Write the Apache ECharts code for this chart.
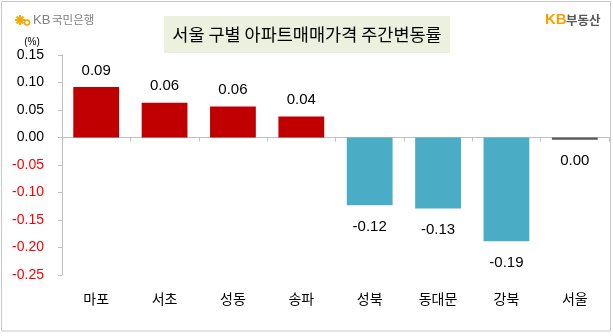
<!DOCTYPE html>
<html>
<head>
<meta charset="utf-8">
<script src="https://cdn.jsdelivr.net/npm/echarts@6/dist/echarts.min.js"></script>
<style>
  html, body { margin: 0; padding: 0; background: #fff; }
  #chart { width: 613px; height: 336px; }
</style>
</head>
<body>
<div id="chart"></div>
<script>
// 서울 구별 아파트 매매가격 주간 변동률 (%)
const districts = ['마포', '서초', '성동', '송파', '성북', '동대문', '강북', '서울'];
const weeklyChange = [0.092, 0.063, 0.0565, 0.038, -0.123, -0.129, -0.1886, -0.004];
const yTicks = { min: -0.25, max: 0.15, step: 0.05 };

const UP = '#C00000', DOWN = '#4BACC6', CITY = '#595959';
const FONT = '"Liberation Sans", "Noto Sans CJK KR", sans-serif';
const KFONT = '"Noto Sans CJK KR", sans-serif';

const fmt = v => (Math.round(v * 100) / 100).toFixed(2);

const barData = weeklyChange.map((v, i) => {
  const isCity = districts[i] === '서울';
  const above = v >= 0 && !isCity;
  return {
    value: v,
    itemStyle: { color: isCity ? CITY : (v >= 0 ? UP : DOWN) },
    label: { position: above ? 'top' : 'bottom', distance: above ? 9 : 14 }
  };
});

const chart = echarts.init(document.getElementById('chart'), null, { renderer: 'canvas' });
chart.setOption({
  animation: false,
  backgroundColor: '#fff',
  grid: { left: 62, right: 4, top: 55, bottom: 61 },
  xAxis: [
    {
      type: 'category',
      data: districts,
      axisLine: { onZero: true, lineStyle: { color: '#BFBFBF', width: 1 } },
      axisTick: { show: true, length: 4, lineStyle: { color: '#BFBFBF' } },
      axisLabel: { show: false }
    },
    {
      type: 'category',
      data: districts,
      position: 'bottom',
      axisLine: { show: false, onZero: false },
      axisTick: { show: false },
      axisLabel: { show: true, margin: 17, color: '#000', fontSize: 14, fontFamily: KFONT }
    }
  ],
  yAxis: {
    type: 'value',
    min: yTicks.min,
    max: yTicks.max,
    interval: yTicks.step,
    axisLine: { show: true, lineStyle: { color: '#BFBFBF' } },
    axisTick: { show: true, length: 4, lineStyle: { color: '#BFBFBF' } },
    splitLine: { show: false },
    axisLabel: {
      margin: 18,
      fontSize: 14,
      fontFamily: FONT,
      formatter: v => fmt(v),
      color: v => (v < -1e-9 ? '#FF0000' : '#000')
    }
  },
  series: [{
    type: 'bar',
    xAxisIndex: 0,
    data: barData,
    barCategoryGap: '33%',
    label: {
      show: true,
      color: '#000',
      fontSize: 15,
      fontFamily: FONT,
      formatter: p => fmt(p.value)
    }
  }],
  graphic: [
    { type: 'rect', shape: { x: 1.5, y: 1.5, width: 609, height: 329.5 },
      style: { fill: null, stroke: '#C8C8C8', lineWidth: 1 }, z: 100 },
    { type: 'rect', shape: { x: 164, y: 16, width: 286, height: 37 },
      style: { fill: '#EBF1DE' } },
    { type: 'text', x: 307, y: 34.5,
      style: { text: '서울 구별 아파트매매가격 주간변동률', fill: '#000', font: '17.5px ' + KFONT,
               align: 'center', verticalAlign: 'middle' } },
    // KB국민은행 mark
    { type: 'group', x: 20, y: 20, children: [
      { type: 'line', shape: { x1: -5, y1: 0, x2: 5, y2: 0 }, style: { stroke: '#F5A800', lineWidth: 2 } },
      { type: 'line', shape: { x1: 0, y1: -5, x2: 0, y2: 5 }, style: { stroke: '#F5A800', lineWidth: 2 } },
      { type: 'line', shape: { x1: -3.5, y1: -3.5, x2: 3.5, y2: 3.5 }, style: { stroke: '#F5A800', lineWidth: 2 } },
      { type: 'line', shape: { x1: -3.5, y1: 3.5, x2: 3.5, y2: -3.5 }, style: { stroke: '#F5A800', lineWidth: 2 } },
      { type: 'circle', shape: { cx: 7, cy: 2.5, r: 2.5 }, style: { fill: null, stroke: '#F5A800', lineWidth: 1.5 } }
    ] },
    { type: 'text', x: 33, y: 20,
      style: { text: 'KB', fill: '#808080', font: '13px ' + FONT, verticalAlign: 'middle' } },
    { type: 'text', x: 52, y: 20,
      style: { text: '국민은행', fill: '#808080', font: '11.5px ' + KFONT, verticalAlign: 'middle' } },
    // KB부동산 mark
    { type: 'text', x: 545, y: 20,
      style: { text: 'KB', fill: '#F5A200', font: 'bold 15px ' + FONT, verticalAlign: 'middle' } },
    { type: 'text', x: 566, y: 20,
      style: { text: '부동산', fill: '#595959', font: 'bold 12.5px ' + KFONT, verticalAlign: 'middle' } },
    { type: 'text', x: 32, y: 42,
      style: { text: '(%)', fill: '#000', font: '10px ' + FONT, align: 'center', verticalAlign: 'middle' } }
  ]
});
</script>
</body>
</html>
